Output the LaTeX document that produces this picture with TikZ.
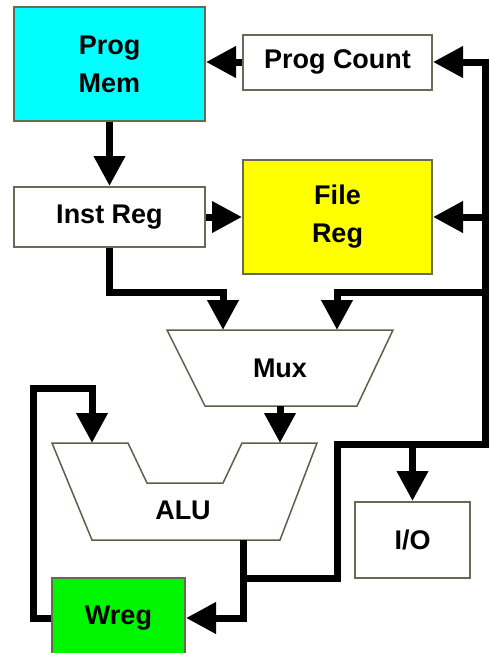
\documentclass[tikz,border=0pt]{standalone}
\usepackage{fontspec}
\setmainfont{Liberation Sans}
\usetikzlibrary{arrows.meta}

\definecolor{edgegray}{RGB}{105,105,85}
\definecolor{unitgray}{RGB}{85,100,70}
\definecolor{memcyan}{RGB}{0,255,255}
\definecolor{fileyellow}{RGB}{255,255,0}
\definecolor{wreggreen}{RGB}{0,245,0}

\begin{document}
\begin{tikzpicture}[
		x=1pt, y=-1pt,
		font=\fontsize{27}{38}\selectfont\bfseries,
		box/.style={draw=edgegray, line width=2pt, inner sep=0pt, align=center},
		unit/.style={draw=unitgray, line width=1.5pt, fill=white},
		bus/.style={line width=7pt, -{Triangle[length=30pt, width=30pt]}}
		]
		\useasboundingbox (0,0) rectangle (489,653);
		
		% Registers and memories
		\node[box, fill=memcyan, minimum width=191pt, minimum height=114pt] (progmem) at (109.5,64) {Prog\\Mem};
		\node[box, minimum width=189pt, minimum height=55pt] (progcount) at (337.5,62) {Prog Count};
		\node[box, minimum width=191pt, minimum height=60pt] (instreg) at (109.5,217) {Inst Reg};
		\node[box, fill=fileyellow, minimum width=189pt, minimum height=114pt] (filereg) at (337.5,217) {File\\Reg};
		\node[box, minimum width=115pt, minimum height=76pt] (io) at (412.5,540) {I/O};
		\node[box, fill=wreggreen, minimum width=133pt, minimum height=80pt] (wreg) at (118.5,618) {Wreg};
		
		% Mux and ALU outlines
		\draw[unit] (167,330) -- (393,330) -- (357,406) -- (205,406) -- cycle;
		\node (mux) at (280,368) {Mux};
		\draw[unit] (52,443) -- (128,443) -- (147,483) -- (223,483) -- (242,443)
			-- (317,443) -- (280,540) -- (92,540) -- cycle;
		\node (alu) at (183,510) {ALU};
		
		% Ports and bends
		\coordinate (muxA) at (223,330);
		\coordinate (muxB) at (337,330);
		\coordinate (muxout) at (280,406);
		\coordinate (aluA) at (92,443);
		\coordinate (aluB) at (280,443);
		\coordinate (aluout) at (243,540);
		\coordinate (tap) at (243,578);
		\coordinate (busL) at (337,444);
		\coordinate (busR) at (485,444);
		\coordinate (bendA) at (223,292);
		\coordinate (bendB) at (337,292);
		\coordinate (loop) at (33,388);
		
		% Instruction path
		\draw[bus] (progcount.west) -- (progmem.east |- progcount.west);
		\draw[bus] (progmem.south) -- (progmem.south |- instreg.north);
		\draw[bus] (instreg.east) -- (filereg.west);
		
		% Inputs to the mux and the ALU
		\draw[bus] (instreg.south) |- (bendA) -- (muxA);
		\draw[bus] (busR |- bendB) -- (bendB) -- (muxB);
		\draw[bus] (muxout) -- (aluB);
		\draw[bus] (wreg.west) -| (loop) -| (aluA);
		\draw[bus] (aluout) |- (wreg.east);
		
		% Result bus
		\draw[bus] (tap) -| (busL) -- (busR) |- (progcount.east);
		\draw[bus] (busR |- filereg.east) -- (filereg.east);
		\draw[bus] (io.north |- busR) -- (io.north);
		
	\end{tikzpicture}
\end{document}
